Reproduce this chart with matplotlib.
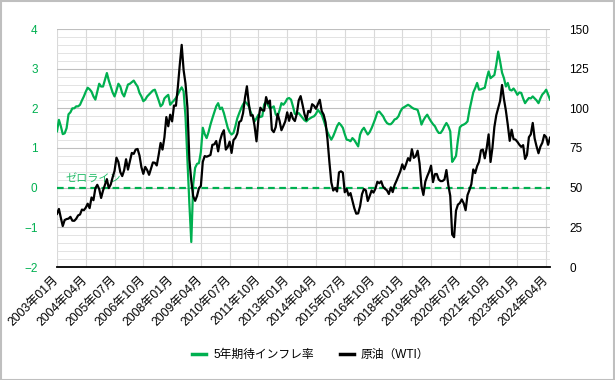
import matplotlib
matplotlib.use('Agg')
import matplotlib.pyplot as plt
from matplotlib.ticker import MultipleLocator
from matplotlib.lines import Line2D
from matplotlib.patches import Rectangle
import numpy as np

plt.rcParams['font.family'] = ['Liberation Sans', 'Noto Sans CJK JP', 'DejaVu Sans']

# Monthly data, 2003-01 .. 2024-06
inflation_5y = [
    1.42, 1.71, 1.55, 1.35, 1.37, 1.50, 1.85, 1.90, 2.00, 2.00, 2.05, 2.05,   # 2003
    2.09, 2.20, 2.30, 2.42, 2.52, 2.48, 2.42, 2.30, 2.22, 2.42, 2.62, 2.55,   # 2004
    2.55, 2.72, 2.89, 2.70, 2.55, 2.40, 2.30, 2.45, 2.62, 2.55, 2.38, 2.30,   # 2005
    2.45, 2.60, 2.62, 2.66, 2.70, 2.62, 2.55, 2.39, 2.30, 2.18, 2.22, 2.30,   # 2006
    2.35, 2.40, 2.45, 2.47, 2.34, 2.20, 2.05, 2.10, 2.25, 2.30, 2.34, 2.09,   # 2007
    2.15, 2.20, 2.26, 2.35, 2.45, 2.53, 2.43, 1.78, 0.69, -0.40, -1.37, 0.08, # 2008
    0.50, 0.60, 0.62, 0.90, 1.51, 1.35, 1.25, 1.40, 1.59, 1.75, 1.90, 2.05,   # 2009
    2.13, 1.98, 2.02, 1.88, 1.70, 1.51, 1.40, 1.34, 1.38, 1.55, 1.75, 1.88,   # 2010
    2.00, 2.10, 2.17, 2.12, 2.05, 1.90, 1.80, 1.67, 1.75, 1.84, 1.78, 1.80,   # 2011
    2.10, 2.17, 2.08, 2.00, 2.02, 2.05, 1.85, 1.79, 1.95, 2.13, 2.09, 2.15,   # 2012
    2.24, 2.26, 2.22, 2.05, 1.86, 1.86, 1.88, 1.82, 1.76, 1.70, 1.67, 1.72,   # 2013
    1.75, 1.78, 1.80, 1.86, 1.96, 1.90, 1.84, 1.70, 1.55, 1.40, 1.30, 1.21,   # 2014
    1.30, 1.42, 1.55, 1.63, 1.58, 1.51, 1.35, 1.21, 1.20, 1.17, 1.25, 1.20,   # 2015
    1.12, 1.04, 1.34, 1.45, 1.51, 1.42, 1.34, 1.40, 1.50, 1.62, 1.75, 1.90,   # 2016
    1.92, 1.86, 1.80, 1.70, 1.63, 1.60, 1.60, 1.65, 1.72, 1.74, 1.80, 1.92,   # 2017
    2.00, 2.03, 2.06, 2.09, 2.06, 2.02, 1.99, 1.98, 1.96, 1.80, 1.59, 1.70,   # 2018
    1.78, 1.84, 1.75, 1.67, 1.60, 1.55, 1.45, 1.38, 1.38, 1.45, 1.55, 1.63,   # 2019
    1.55, 1.42, 0.65, 0.72, 0.80, 1.20, 1.52, 1.57, 1.59, 1.62, 1.67, 1.95,   # 2020
    2.17, 2.40, 2.51, 2.64, 2.47, 2.48, 2.50, 2.52, 2.75, 2.93, 2.76, 2.80,   # 2021
    2.84, 3.10, 3.43, 3.18, 2.90, 2.76, 2.55, 2.64, 2.47, 2.45, 2.50, 2.43,   # 2022
    2.34, 2.40, 2.39, 2.25, 2.13, 2.20, 2.26, 2.25, 2.30, 2.25, 2.20, 2.13,   # 2023
    2.25, 2.35, 2.40, 2.47, 2.35, 2.22,                                       # 2024
]

wti = [
    33.5, 36.6, 31.0, 25.8, 29.6, 30.2, 30.5, 31.6, 29.2, 29.1, 30.4, 32.5,   # 2003
    33.1, 36.2, 35.8, 37.4, 39.9, 37.1, 43.8, 42.1, 49.6, 51.8, 49.1, 43.5,   # 2004
    48.2, 51.8, 55.4, 49.7, 52.0, 56.5, 60.6, 68.9, 66.2, 59.8, 57.3, 61.0,   # 2005
    67.9, 61.4, 66.6, 71.9, 71.3, 74.0, 74.4, 70.3, 62.9, 58.7, 63.1, 61.1,   # 2006
    58.1, 62.0, 65.9, 65.7, 64.0, 70.7, 78.2, 74.0, 81.7, 94.5, 88.7, 96.0,   # 2007
    91.8, 101.8, 101.6, 113.5, 127.4, 140.0, 124.1, 115.5, 100.6, 67.8, 54.4, 44.6,  # 2008
    41.7, 44.8, 49.7, 51.1, 66.3, 69.9, 69.5, 70.0, 70.6, 77.0, 77.3, 79.4,   # 2009
    72.9, 79.7, 83.8, 86.2, 74.0, 75.6, 79.0, 71.9, 80.0, 81.4, 84.1, 91.4,   # 2010
    92.2, 97.0, 106.7, 113.9, 102.7, 95.4, 95.7, 88.8, 79.2, 93.2, 100.4, 98.8,  # 2011
    98.5, 107.1, 103.0, 104.9, 86.5, 85.0, 88.1, 96.5, 92.2, 86.2, 88.9, 91.8,  # 2012
    97.5, 92.1, 97.2, 93.5, 92.0, 96.6, 105.0, 107.7, 102.3, 96.4, 92.7, 98.4,  # 2013
    97.5, 102.6, 101.6, 99.7, 102.7, 105.4, 98.2, 96.0, 91.2, 80.5, 66.2, 53.3,  # 2014
    48.2, 49.8, 47.6, 59.6, 60.3, 59.5, 47.1, 49.2, 45.1, 46.6, 41.7, 37.0,   # 2015
    33.6, 33.8, 38.3, 45.9, 49.1, 48.3, 41.6, 44.7, 48.2, 46.9, 49.4, 53.7,   # 2016
    52.8, 54.0, 50.6, 49.3, 48.3, 46.0, 50.2, 47.2, 51.7, 54.4, 57.4, 60.4,   # 2017
    64.7, 61.6, 64.9, 68.6, 67.0, 74.2, 68.8, 69.8, 73.3, 65.3, 50.9, 45.4,   # 2018
    53.8, 57.2, 60.1, 63.9, 53.5, 58.5, 58.6, 55.1, 54.1, 54.2, 55.2, 61.1,   # 2019
    51.6, 44.8, 20.5, 18.8, 35.5, 39.3, 40.3, 42.6, 40.2, 35.8, 45.3, 48.5,   # 2020
    52.2, 61.5, 59.2, 63.6, 66.3, 73.5, 74.0, 68.5, 75.0, 83.6, 66.2, 75.2,   # 2021
    88.2, 95.7, 100.3, 104.7, 114.7, 105.8, 98.6, 89.6, 79.5, 86.5, 80.6, 80.3,  # 2022
    78.9, 77.1, 75.7, 76.8, 68.1, 70.6, 81.8, 83.6, 90.8, 81.0, 76.0, 71.7,   # 2023
    75.9, 78.3, 83.2, 81.9, 77.0, 81.5,                                       # 2024
]

tick_labels = ["2003年01月", "2004年04月", "2005年07月", "2006年10月", "2008年01月",
               "2009年04月", "2010年07月", "2011年10月", "2013年01月", "2014年04月",
               "2015年07月", "2016年10月", "2018年01月", "2019年04月", "2020年07月",
               "2021年10月", "2023年01月", "2024年04月"]
tick_step = 15

series_names = ["5年期待インフレ率", "原油（WTI）"]
zero_label = "ゼロライン"

GREEN = '#00b050'

fig = plt.figure(figsize=(6.15, 3.8), dpi=100)
ax = fig.add_axes([57/615, 1-267/380, (550-57)/615, (267-29)/380])

x = np.arange(len(inflation_5y))
ax.set_xlim(0, len(x) - 1)
ax.set_ylim(-2, 4)
ax.yaxis.set_major_locator(MultipleLocator(1))
ax.yaxis.set_minor_locator(MultipleLocator(0.2))
ax.set_xticks(np.arange(len(tick_labels)) * tick_step)
ax.set_xticklabels(tick_labels, rotation=45, ha='right', va='center',
                   rotation_mode='anchor', fontsize=8.7)

ax.grid(which='major', axis='y', color='#bfbfbf', lw=0.8)
ax.grid(which='minor', axis='y', color='#dedede', lw=0.6)
ax.grid(which='major', axis='x', color='#d9d9d9', lw=0.8)
ax.set_axisbelow(True)
for s in ['left', 'right', 'top']:
    ax.spines[s].set_visible(False)
ax.spines['bottom'].set_color('black')
ax.spines['bottom'].set_linewidth(1.3)
ax.tick_params(axis='x', length=0, pad=8)
ax.tick_params(axis='y', which='both', length=0, pad=14, labelcolor=GREEN, labelsize=8.5)

ax.plot(x, inflation_5y, color=GREEN, lw=1.6, zorder=3)
ax.axhline(0, color=GREEN, lw=1.6, ls=(0, (3, 2)), zorder=4)
ax.text(4.5, 0.08, zero_label, color=GREEN, fontsize=8, ha='left', va='bottom',
        family=['Noto Sans CJK JP', 'DejaVu Sans'], alpha=0.85, zorder=4)

ax2 = ax.twinx()
ax2.set_ylim(0, 150)
ax2.yaxis.set_major_locator(MultipleLocator(25))
for s in ['left', 'right', 'top', 'bottom']:
    ax2.spines[s].set_visible(False)
ax2.tick_params(axis='y', length=0, pad=14, labelsize=8.5, labelcolor='black')
ax2.plot(x, wti, color='black', lw=1.6, zorder=5)

handles = [Line2D([], [], color=GREEN, lw=2.5), Line2D([], [], color='black', lw=2.5)]
fig.legend(handles, series_names, loc='center', bbox_to_anchor=(0.505, 0.066), ncol=2,
           frameon=False, fontsize=8.5, handlelength=1.2, handletextpad=0.6,
           columnspacing=2.2)

fig.patches.append(Rectangle((0.001, 0.001), 0.998, 0.997, transform=fig.transFigure,
                             fill=False, edgecolor='#bfbfbf', lw=1.5))

fig.savefig('out.png', dpi=100)
